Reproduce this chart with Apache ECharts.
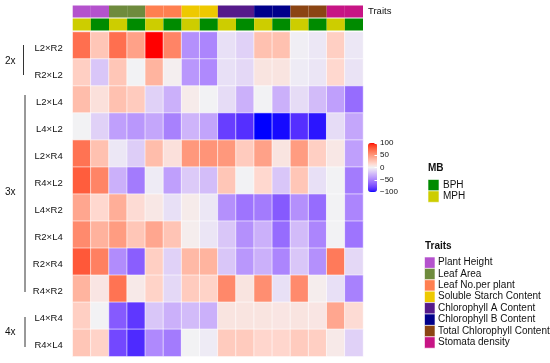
<!DOCTYPE html>
<html>
<head>
<meta charset="utf-8">
<script src="https://cdn.jsdelivr.net/npm/echarts@6/dist/echarts.min.js"></script>
<style>html,body{margin:0;padding:0;background:#fff}#c{width:550px;height:363px}</style>
</head>
<body>
<div id="c"></div>
<script>
// ---------- data ----------
const columns = ['c1','c2','c3','c4','c5','c6','c7','c8','c9','c10','c11','c12','c13','c14','c15','c16'];
const colTraits = ['Plant Height','Plant Height','Leaf Area','Leaf Area','Leaf No.per plant','Leaf No.per plant',
  'Soluble Starch Content','Soluble Starch Content','Chlorophyll A Content','Chlorophyll A Content',
  'Chlorophyll B Content','Chlorophyll B Content','Total Chlorophyll Content','Total Chlorophyll Content',
  'Stomata density','Stomata density'];
const colMB = ['MPH','BPH','MPH','BPH','MPH','BPH','MPH','BPH','MPH','BPH','MPH','BPH','MPH','BPH','MPH','BPH'];
const traitNames = ['Plant Height','Leaf Area','Leaf No.per plant','Soluble Starch Content','Chlorophyll A Content','Chlorophyll B Content','Total Chlorophyll Content','Stomata density'];
const traitColors = ['#B452CD','#6E8B3D','#FF7F50','#EEC900','#551A8B','#00008B','#8B4513','#C71585'];
const mbNames = ['BPH','MPH'];
const mbColors = ['#008B00','#CDCD00'];
const groupNames = ['2x','3x','4x'];
const groupRows = [
  ['L2×R2','R2×L2'],
  ['L2×L4','L4×L2','L2×R4','R4×L2','L4×R2','R2×L4','R2×R4','R4×R2'],
  ['L4×R4','R4×L4']
];
const values = [
  [70,25,70,45,100,60,-45,-50,-8,-15,28,28,-2,-5,20,-5],
  [20,-20,25,0,35,2,-42,-48,-8,-12,8,8,-3,-6,15,-7],
  [30,10,28,22,-15,-30,4,0,-10,-30,0,-30,-10,-25,-38,-62],
  [0,-15,-38,-42,-35,-52,-28,-36,-82,-88,-100,-98,-88,-96,-10,-35],
  [68,28,-5,-17,30,10,50,52,50,22,45,8,48,20,6,-38],
  [78,60,-30,-55,-3,-38,-18,-24,25,0,15,-20,25,-8,0,-55],
  [42,15,38,13,6,-8,4,-5,-45,-58,-55,-70,-45,-62,0,-50],
  [57,36,48,25,42,26,3,-6,-20,-45,-30,-62,-25,-50,0,-58],
  [80,62,-47,-68,20,-15,32,35,-20,-42,-30,-50,-20,-45,65,-12],
  [35,7,68,5,18,-12,22,18,58,8,55,-8,57,3,-8,-52],
  [20,0,-70,-85,-20,-30,-25,-30,8,8,8,7,8,7,42,13],
  [25,18,-78,-90,-48,-55,0,-3,22,22,16,16,22,20,5,-15]
];

// ---------- colour scale (LAB interpolation blue - white - red) ----------
function srgb2lin(c){c/=255;return c<=0.04045?c/12.92:Math.pow((c+0.055)/1.055,2.4);}
function lin2srgb(c){c=Math.max(0,Math.min(1,c));return Math.round(255*(c<=0.0031308?12.92*c:1.055*Math.pow(c,1/2.4)-0.055));}
function hex2rgb(h){return [parseInt(h.slice(1,3),16),parseInt(h.slice(3,5),16),parseInt(h.slice(5,7),16)];}
function rgb2lab(rgb){
  const r=srgb2lin(rgb[0]),g=srgb2lin(rgb[1]),b=srgb2lin(rgb[2]);
  let X=(0.4124*r+0.3576*g+0.1805*b)/0.95047,Y=(0.2126*r+0.7152*g+0.0722*b),Z=(0.0193*r+0.1192*g+0.9505*b)/1.08883;
  const f=t=>t>0.008856?Math.cbrt(t):7.787*t+16/116;
  const fx=f(X),fy=f(Y),fz=f(Z);
  return [116*fy-16,500*(fx-fy),200*(fy-fz)];
}
function lab2hex(lab){
  const fy=(lab[0]+16)/116,fx=fy+lab[1]/500,fz=fy-lab[2]/200;
  const fi=t=>t*t*t>0.008856?t*t*t:(t-16/116)/7.787;
  const X=fi(fx)*0.95047,Y=fi(fy),Z=fi(fz)*1.08883;
  const r=3.2406*X-1.5372*Y-0.4986*Z,g=-0.9689*X+1.8758*Y+0.0415*Z,b=0.0557*X-0.2040*Y+1.0570*Z;
  return '#'+[r,g,b].map(v=>lin2srgb(v).toString(16).padStart(2,'0')).join('');
}
const LB=rgb2lab(hex2rgb('#0000FF')),LW=rgb2lab(hex2rgb('#F2F2F4')),LR=rgb2lab(hex2rgb('#FF0000'));
function scaleColor(v){
  const a=LW,b=v<0?LB:LR,t=Math.abs(v)/100;
  return lab2hex([a[0]+(b[0]-a[0])*t,a[1]+(b[1]-a[1])*t,a[2]+(b[2]-a[2])*t]);
}
const stops=[];
for(let v=-100;v<=100;v+=5) stops.push(scaleColor(v));

// ---------- layout ----------
const L=72.7, W=290.3;
const TOP=32, rowH=27.03;
const FF='Liberation Sans, Arial';
const grids=[], xAxes=[], yAxes=[], series=[];
let rowOffset=0;
groupRows.forEach((rows,gi)=>{
  const top=TOP+rowOffset*rowH;
  grids.push({left:L,width:W,top:top,height:rows.length*rowH});
  xAxes.push({type:'category',gridIndex:gi,data:columns,show:false});
  yAxes.push({type:'category',gridIndex:gi,data:rows,inverse:true,
    axisLine:{show:false},axisTick:{show:false},
    axisLabel:{margin:10,formatter:v=>'{a|'+v+'}',
      rich:{a:{fontFamily:FF,fontSize:9.5,color:'#111',padding:[5,0,0,0]}}}});
  const data=[];
  rows.forEach((r,ri)=>values[rowOffset+ri].forEach((v,ci)=>data.push([ci,ri,v])));
  series.push({type:'heatmap',xAxisIndex:gi,yAxisIndex:gi,data:data,
    itemStyle:{borderColor:'#ffffff',borderWidth:0.6},
    emphasis:{disabled:true}});
  rowOffset+=rows.length;
});
// annotation grid
const gA=grids.length;
grids.push({left:L,width:W,top:5,height:26});
xAxes.push({type:'category',gridIndex:gA,data:columns,show:false});
yAxes.push({type:'category',gridIndex:gA,data:['Traits','MB'],inverse:true,position:'right',
  axisLine:{show:false},axisTick:{show:false},
  axisLabel:{fontFamily:FF,fontSize:9.5,color:'#111',margin:5}});
const annData=[];
columns.forEach((c,ci)=>{
  annData.push([ci,0,traitColors[traitNames.indexOf(colTraits[ci])]]);
  annData.push([ci,1,mbColors[mbNames.indexOf(colMB[ci])]]);
});
series.push({type:'custom',xAxisIndex:gA,yAxisIndex:gA,data:annData,
  renderItem:function(params,api){
    const p=api.coord([api.value(0),api.value(1)]);
    const s=api.size([1,1]);
    return {type:'rect',shape:{x:p[0]-s[0]/2,y:p[1]-s[1]/2+0.5,width:s[0],height:s[1]-1},
      style:{fill:annData[params.dataIndex][2]}};
  }});
// colour bar axis grid
const gC=grids.length;
grids.push({left:368,top:143,width:9,height:49});
xAxes.push({type:'category',gridIndex:gC,data:[''],show:false});
yAxes.push({type:'value',gridIndex:gC,min:-100,max:100,interval:50,position:'right',z:20,
  splitLine:{show:false},axisLine:{show:false},
  axisTick:{show:true,inside:true,length:2.5,lineStyle:{color:'#fff',width:1}},
  axisLabel:{fontFamily:FF,fontSize:8,color:'#111',margin:3,
    formatter:v=>String(v).replace('-','\u2212')}});
series.push({type:'line',xAxisIndex:gC,yAxisIndex:gC,data:[],silent:true});

// ---------- legends & group annotations (graphic) ----------
const graphic=[];
const gLine=[[23.5,45,75],[25,95,292],[25,317,347]];
const gText=[62,193,333];
groupNames.forEach((g,i)=>{
  graphic.push({type:'text',left:5,top:gText[i]-5.5,style:{text:g,font:'10px '+FF,fill:'#111'}});
  graphic.push({type:'line',shape:{x1:gLine[i][0],y1:gLine[i][1],x2:gLine[i][0],y2:gLine[i][2]},style:{stroke:'#333',lineWidth:1}});
});
// MB legend
graphic.push({type:'text',left:428,top:163.5,style:{text:'MB',font:'bold 10px '+FF,fill:'#111'}});
mbNames.forEach((n,i)=>{
  graphic.push({type:'rect',shape:{x:428,y:179.5+i*11.4,width:11,height:11.4},style:{fill:mbColors[i],stroke:'#fff',lineWidth:0.6}});
  graphic.push({type:'text',left:443,top:180+i*11.4,style:{text:n,font:'10px '+FF,fill:'#111'}});
});
// Traits legend
graphic.push({type:'text',left:425,top:241.5,style:{text:'Traits',font:'bold 10px '+FF,fill:'#111'}});
traitNames.forEach((n,i)=>{
  graphic.push({type:'rect',shape:{x:424.5,y:257+i*11.4,width:10.5,height:11.4},style:{fill:traitColors[i],stroke:'#fff',lineWidth:0.6}});
  graphic.push({type:'text',left:438,top:257.5+i*11.4,style:{text:n,font:'10px '+FF,fill:'#111'}});
});

const chart=echarts.init(document.getElementById('c'),null,{renderer:'canvas'});
chart.setOption({
  animation:false,
  grid:grids, xAxis:xAxes, yAxis:yAxes, series:series,
  visualMap:{type:'continuous',min:-100,max:100,seriesIndex:[0,1,2],
    inRange:{color:stops},show:true,calculable:false,orient:'vertical',
    left:368,top:143,itemWidth:9,itemHeight:49,padding:0,text:null,showLabel:false,
    textStyle:{fontSize:0}},
  graphic:graphic
});
</script>
</body>
</html>
